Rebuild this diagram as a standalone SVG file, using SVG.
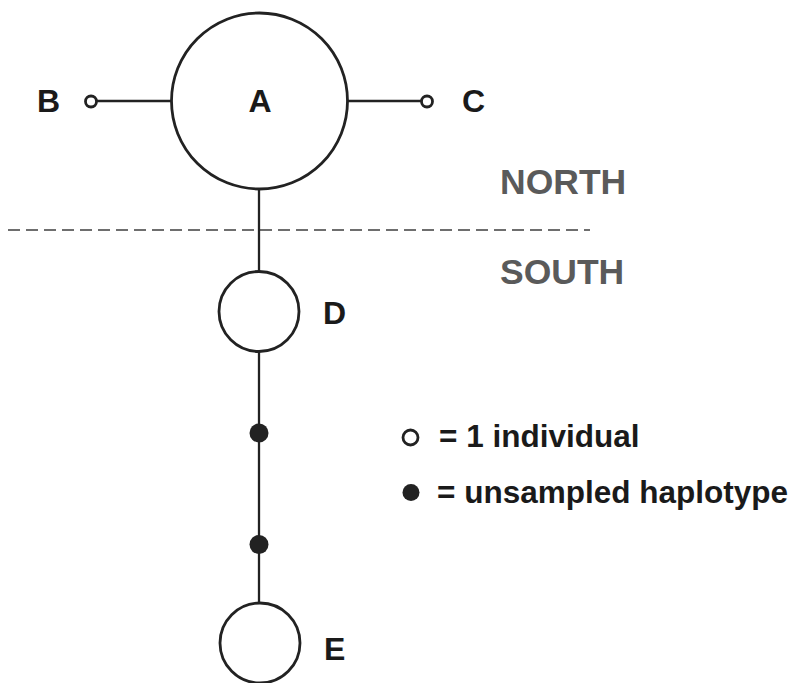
<svg xmlns="http://www.w3.org/2000/svg" width="791" height="683" viewBox="0 0 791 683">
  <style>
    .node { fill: #ffffff; stroke: #222222; stroke-width: 2.8; }
    .dot { fill: #222222; stroke: none; }
    .edge { stroke: #222222; stroke-width: 2.3; fill: none; }
    .divider { stroke: #6e6e6e; stroke-width: 1.8; stroke-dasharray: 12 6; fill: none; }
    .label { font-family: "Liberation Sans", Arial, sans-serif; font-weight: bold; font-size: 32px; fill: #1a1a1a; }
    .region { font-family: "Liberation Sans", Arial, sans-serif; font-weight: bold; font-size: 35.5px; fill: #5a5a5a; }
    .legend { font-family: "Liberation Sans", Arial, sans-serif; font-weight: bold; font-size: 31.5px; fill: #1a1a1a; }
  </style>
  <rect width="791" height="683" fill="#ffffff"/>

  <!-- north / south boundary -->
  <line class="divider" x1="8" y1="230" x2="590" y2="230"/>
  <text class="region" x="500" y="194">NORTH</text>
  <text class="region" x="500" y="284">SOUTH</text>

  <!-- connectors -->
  <g id="connectors">
    <line class="edge" x1="96" y1="101" x2="171" y2="101"/>
    <line class="edge" x1="348" y1="101" x2="422" y2="101"/>
    <line class="edge" x1="259" y1="189" x2="259" y2="272"/>
    <line class="edge" x1="259" y1="351" x2="259" y2="603"/>
  </g>

  <g id="node-A">
    <circle class="node" cx="259.5" cy="101" r="88"/>
    <text class="label" x="260" y="112" text-anchor="middle">A</text>
  </g>
  <g id="node-B">
    <circle class="node" cx="91" cy="101.5" r="5.5" stroke-width="2.2"/>
    <text class="label" x="37" y="112">B</text>
  </g>
  <g id="node-C">
    <circle class="node" cx="427" cy="101.5" r="5.5" stroke-width="2.2"/>
    <text class="label" x="462" y="112">C</text>
  </g>
  <g id="node-D">
    <circle class="node" cx="259" cy="311.5" r="40"/>
    <text class="label" x="323" y="324">D</text>
  </g>
  <g id="node-u1">
    <circle class="dot" cx="259" cy="433" r="9.5"/>
  </g>
  <g id="node-u2">
    <circle class="dot" cx="259" cy="544.5" r="9.5"/>
  </g>
  <g id="node-E">
    <circle class="node" cx="260" cy="643" r="40"/>
    <text class="label" x="324" y="660">E</text>
  </g>

  <!-- legend -->
  <g id="legend">
    <circle class="node" cx="410.5" cy="437.5" r="7.5" stroke-width="2.2"/>
    <text class="legend" x="439" y="447">= 1 individual</text>
    <circle class="dot" cx="411" cy="492.5" r="8.5"/>
    <text class="legend" x="437" y="502.5">= unsampled haplotype</text>
  </g>
</svg>
